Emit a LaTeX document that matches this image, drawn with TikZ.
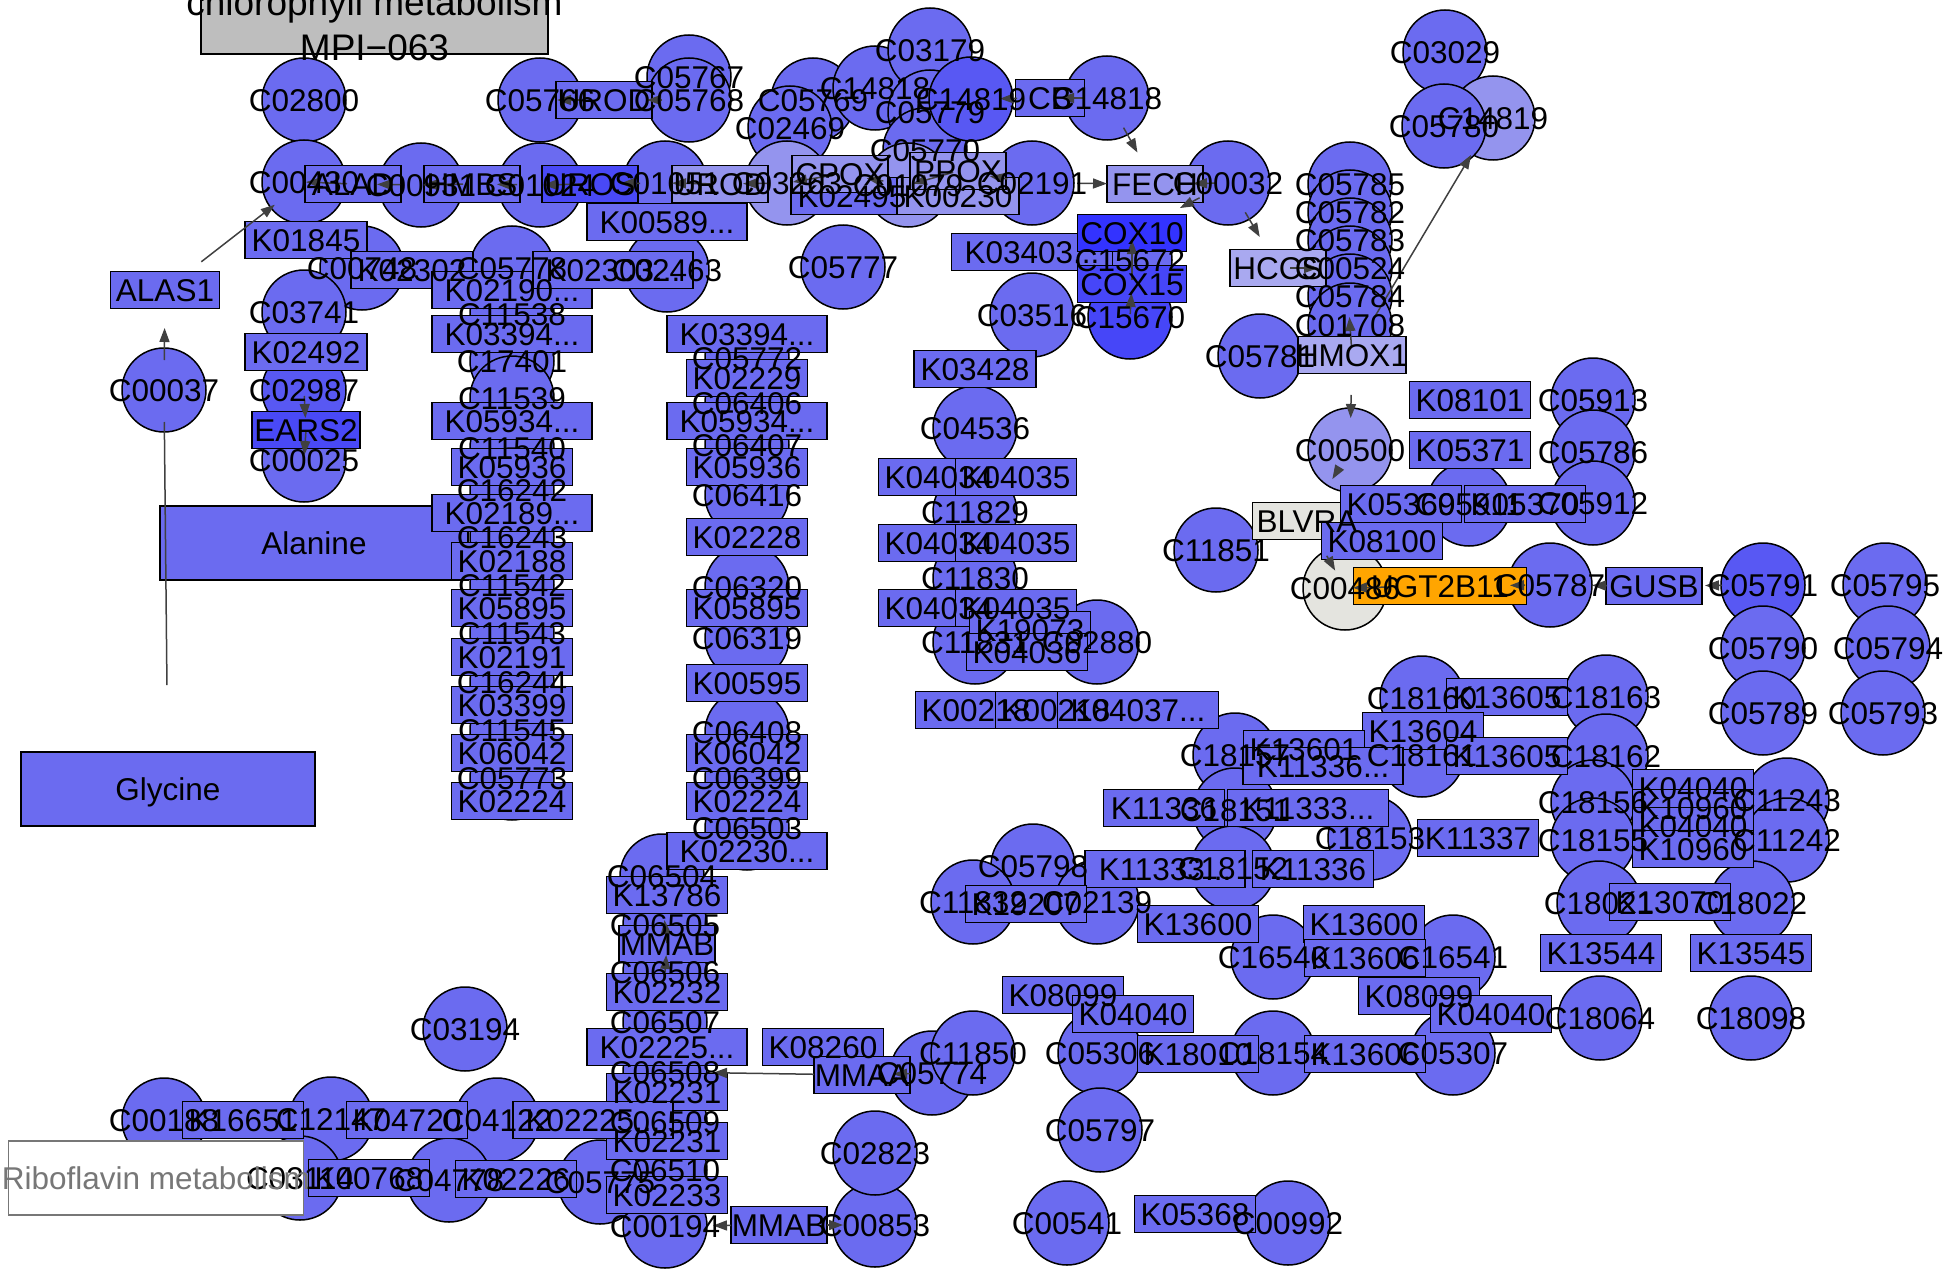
\documentclass[tikz,border=0pt]{standalone}
\usepackage{fontspec}
\setmainfont{Liberation Sans}
\usetikzlibrary{arrows.meta}
\definecolor{cpdblue}{HTML}{6B6BF0}
\definecolor{midblue}{HTML}{5858F3}
\definecolor{deepblue}{HTML}{4949F6}
\definecolor{coxblue}{HTML}{3333FF}
\definecolor{coxblueb}{HTML}{4646F8}
\definecolor{paleblue}{HTML}{9494EE}
\definecolor{paleblueb}{HTML}{A9A9F0}
\definecolor{greyish}{HTML}{E4E4DF}
\definecolor{orangebox}{HTML}{FFA500}
\definecolor{groupgray}{HTML}{BEBEBE}
\definecolor{edgegray}{HTML}{404040}
\definecolor{ribogray}{HTML}{777777}
\newcommand{\nodefont}{\fontsize{31.5}{36}\selectfont}
\newcommand{\groupfont}{\fontsize{37}{44}\selectfont}
\protected\def\ellip{...}
\tikzset{
  cpd/.style     ={circle,draw,line width=1.5pt,minimum size=84pt,inner sep=0pt},
  gene/.style    ={rectangle,draw,line width=1.5pt,minimum height=37pt,inner sep=0pt},
  groupbox/.style={rectangle,draw,line width=1.5pt,inner sep=0pt},
  lbl/.style     ={font=\nodefont,inner sep=0pt,text height=22.5pt,text depth=0pt},
  flow/.style    ={-{Triangle[length=14pt,width=10pt]},line width=1.5pt,draw=edgegray},
  link/.style    ={line width=1.5pt,draw=edgegray},
}

\begin{document}
\begin{tikzpicture}[x=1pt,y=-1pt]
\useasboundingbox (0,0) rectangle (1952,1271);
\clip (0,0) rectangle (1952,1271);
% compounds: name/x/y/label/fill
\def\cpdlist{c02800/304/100/C02800/cpdblue,c00430/304/182/C00430/cpdblue,c00931/421/185/C00931/cpdblue,
c00748/362/268/C00748/cpdblue,c03741/304/312/C03741/cpdblue,c02987/304/390/C02987/midblue,
c00025/304/460/C00025/cpdblue,c00037/164/390/C00037/cpdblue,c05766/540/100/C05766/cpdblue,
c01024/540/185/C01024/cpdblue,c05778/512/268/C05778/cpdblue,c05767/689/77/C05767/cpdblue,
c05768/689/100/C05768/cpdblue,c01051/665/183/C01051/cpdblue,c02463/667/270/C02463/cpdblue,
c05769/813/100/C05769/cpdblue,c02469/790/128/C02469/cpdblue,c03263/787/183/C03263/paleblue,
c14818a/875/88/C14818/cpdblue,c03179/930/50/C03179/cpdblue,c05779/930/112/C05779/cpdblue,
c05770/925/150/C05770/cpdblue,c01079/908/185/C01079/paleblue,c14819a/971/99/C14819/midblue,
c05777/843/267/C05777/cpdblue,c14818b/1107/98/C14818/cpdblue,c02191/1032/183/C02191/cpdblue,
c00032/1228/183/C00032/cpdblue,c03516/1032/315/C03516/cpdblue,c15672/1130/260/C15672/cpdblue,
c15670/1130/317/C15670/coxblueb,c04536/975/428/C04536/cpdblue,
c11538/512/314/C11538/cpdblue,c17401/512/361/C17401/cpdblue,c11539/512/398/C11539/cpdblue,
c11540/512/448/C11540/cpdblue,c16242/512/490/C16242/cpdblue,c16243/512/537/C16243/cpdblue,
c11542/512/585/C11542/cpdblue,c11543/512/633/C11543/cpdblue,c16244/512/682/C16244/cpdblue,
c11545/512/730/C11545/cpdblue,c05773/512/778/C05773/cpdblue,
c05772/747/358/C05772/cpdblue,c06406/747/403/C06406/cpdblue,c06407/747/445/C06407/cpdblue,
c06416/747/495/C06416/cpdblue,c06320/747/587/C06320/cpdblue,c06319/747/638/C06319/cpdblue,
c06408/747/732/C06408/cpdblue,c06399/747/778/C06399/cpdblue,c06503/747/828/C06503/cpdblue,
c06504/662/876/C06504/cpdblue,c06505/665/925/C06505/cpdblue,c06506/665/972/C06506/cpdblue,
c06507/665/1022/C06507/cpdblue,c06508/665/1072/C06508/cpdblue,c06509/665/1122/C06509/cpdblue,
c06510/665/1170/C06510/cpdblue,c00194/665/1226/C00194/cpdblue,
c00188/164/1120/C00188/cpdblue,c12147/331/1119/C12147/cpdblue,c04122/497/1120/C04122/cpdblue,
c03194/465/1029/C03194/cpdblue,c03114/300/1178/C03114/cpdblue,c04778/449/1180/C04778/cpdblue,
c05775/600/1182/C05775/cpdblue,c00853/875/1225/C00853/cpdblue,c02823/875/1153/C02823/cpdblue,
c05774/932/1073/C05774/cpdblue,c11850/973/1053/C11850/cpdblue,
c11829/975/512/C11829/cpdblue,c11830/975/578/C11830/cpdblue,c11831/975/642/C11831/cpdblue,
c02880/1097/642/C02880/cpdblue,c11851/1216/550/C11851/cpdblue,c18157/1235/755/C18157/cpdblue,
c18151/1235/810/C18151/cpdblue,c18152/1233/868/C18152/cpdblue,c05798/1033/866/C05798/cpdblue,
c11832/973/902/C11832/cpdblue,c02139/1097/902/C02139/cpdblue,c18153/1370/838/C18153/cpdblue,
c16540/1273/957/C16540/cpdblue,c16541/1453/957/C16541/cpdblue,c05306/1100/1053/C05306/cpdblue,
c18154/1273/1053/C18154/cpdblue,c05307/1453/1053/C05307/cpdblue,c05797/1100/1130/C05797/cpdblue,
c00541/1067/1223/C00541/cpdblue,c00992/1288/1223/C00992/cpdblue,
c18160/1422/698/C18160/cpdblue,c18161/1422/755/C18161/cpdblue,c18163/1606/697/C18163/cpdblue,
c18162/1606/756/C18162/cpdblue,c18156/1593/802/C18156/cpdblue,c18155/1593/840/C18155/cpdblue,
c11243/1787/800/C11243/cpdblue,c11242/1787/840/C11242/cpdblue,c18021/1599/903/C18021/cpdblue,
c18022/1752/903/C18022/cpdblue,c18064/1600/1018/C18064/cpdblue,c18098/1751/1018/C18098/cpdblue,
c05785/1350/184/C05785/cpdblue,c05782/1350/212/C05782/cpdblue,c05783/1350/240/C05783/cpdblue,
c00524/1350/268/C00524/cpdblue,c05784/1350/296/C05784/cpdblue,c01708/1350/325/C01708/cpdblue,
c05781/1260/356/C05781/cpdblue,c03029/1445/52/C03029/cpdblue,c14819b/1493/118/C14819/paleblue,
c05780/1444/126/C05780/cpdblue,c00500/1350/450/C00500/paleblue,c05913/1593/400/C05913/cpdblue,
c05786/1593/452/C05786/cpdblue,c05911/1469/504/C05911/cpdblue,c05912/1593/503/C05912/cpdblue,
c00486/1345/588/C00486/greyish,c05787/1550/585/C05787/cpdblue,c05791/1763/585/C05791/midblue,
c05795/1885/585/C05795/cpdblue,c05790/1763/648/C05790/cpdblue,c05794/1888/648/C05794/cpdblue,
c05789/1763/713/C05789/cpdblue,c05793/1883/713/C05793/cpdblue}
% genes: name/x/y/width/label/fill
\def\genelist{alas1/165/290/109/ALAS1/cpdblue,k01845/306/240/122/K01845/cpdblue,
k02492/306/352/122/K02492/cpdblue,ears2/306/430/108/EARS2/deepblue,
alad/353/184/96/ALAD/cpdblue,hmbs/472/184/96/HMBS/cpdblue,uros/590/184/96/UROS/deepblue,
urod/720/184/96/UROD/paleblue,k02495/852/196/122/K02495/cpdblue,cpox/840/174/96/CPOX/paleblue,
k00230/958/196/122/K00230/paleblue,ppox/958/171/96/PPOX/paleblue,cb/1050/98/69/CB/cpdblue,
fech/1155/184/96/FECH/paleblue,k03403/1032/252/161/K03403\ellip/cpdblue,
cox10/1132/233/109/COX10/coxblue,cox15/1132/284/109/COX15/coxblueb,
hccs/1278/268/96/HCCS/paleblueb,hmox1/1352/355/108/HMOX1/paleblueb,k03428/975/369/122/K03428/cpdblue,
urodb/604/100/96/UROD/cpdblue,k00589/667/222/160/K00589\ellip/cpdblue,
k02302/412/270/122/K02302/cpdblue,k02190/512/290/160/K02190\ellip/cpdblue,
k02303/613/270/160/K02303\ellip/cpdblue,
k03394a/512/334/160/K03394\ellip/cpdblue,k05934a/512/421/160/K05934\ellip/cpdblue,
k05936a/512/467/121/K05936/cpdblue,k02189/512/513/160/K02189\ellip/cpdblue,
k02188/512/561/121/K02188/cpdblue,k05895a/512/608/121/K05895/cpdblue,
k02191/512/657/121/K02191/cpdblue,k03399/512/705/121/K03399/cpdblue,
k06042a/512/753/121/K06042/cpdblue,k02224a/512/801/121/K02224/cpdblue,
k03394b/747/334/160/K03394\ellip/cpdblue,k02229/747/378/121/K02229/cpdblue,
k05934b/747/421/160/K05934\ellip/cpdblue,k05936b/747/467/121/K05936/cpdblue,
k02228/747/537/121/K02228/cpdblue,k05895b/747/608/121/K05895/cpdblue,
k00595/747/683/121/K00595/cpdblue,k06042b/747/753/121/K06042/cpdblue,
k02224b/747/801/121/K02224/cpdblue,k02230/747/851/160/K02230\ellip/cpdblue,
k13786/667/895/121/K13786/cpdblue,mmaba/667/944/96/MMAB/cpdblue,
k02232/667/992/121/K02232/cpdblue,k02225a/667/1047/160/K02225\ellip/cpdblue,
k02231a/667/1092/121/K02231/cpdblue,k02231b/667/1141/121/K02231/cpdblue,
k02233/667/1195/121/K02233/cpdblue,k02225b/593/1120/160/K02225\ellip/cpdblue,
k16651/243/1120/121/K16651/cpdblue,k04720/407/1120/121/K04720/cpdblue,
k00768/369/1178/121/K00768/cpdblue,k02226/516/1179/121/K02226/cpdblue,
k08260/823/1047/121/K08260/cpdblue,mmaa/862/1075/96/MMAA/cpdblue,mmabb/779/1225/96/MMAB/cpdblue,
k04034a/939/477/121/K04034/cpdblue,k04035a/1016/477/121/K04035/cpdblue,
k04034b/939/543/121/K04034/cpdblue,k04035b/1016/543/121/K04035/cpdblue,
k04034c/939/608/121/K04034/cpdblue,k04035c/1016/608/121/K04035/cpdblue,
k19073/1030/630/121/K19073/cpdblue,k04036/1027/652/121/K04036/cpdblue,
k00218a/976/710/121/K00218/cpdblue,k00218b/1056/710/121/K00218/cpdblue,
k04037/1138/710/161/K04037\ellip/cpdblue,
blvra/1307/521/109/BLVRA/greyish,k05369/1401/504/121/K05369/cpdblue,k05370/1525/504/121/K05370/cpdblue,
k08100/1382/541/121/K08100/cpdblue,ugt/1440/586/173/UGT2B11/orangebox,gusb/1654/586/96/GUSB/cpdblue,
k05371/1470/450/121/K05371/cpdblue,k08101/1470/400/121/K08101/cpdblue,
k13605a/1507/697/121/K13605/cpdblue,k13604/1423/731/121/K13604/cpdblue,
k13601/1304/749/121/K13601/cpdblue,k11336a/1323/766/160/K11336\ellip/cpdblue,
k13605b/1507/756/121/K13605/cpdblue,k11336b/1164/808/121/K11336/cpdblue,
k11333a/1308/808/161/K11333\ellip/cpdblue,k11333b/1165/869/160/K11333\ellip/cpdblue,
k11336c/1313/869/121/K11336/cpdblue,k11337/1478/838/121/K11337/cpdblue,
k04040a/1693/788/121/K04040/cpdblue,k10960a/1693/808/121/K10960/cpdblue,
k04040b/1693/826/121/K04040/cpdblue,k10960b/1693/849/121/K10960/cpdblue,
k13070/1670/902/121/K13070/cpdblue,k13544/1601/953/121/K13544/cpdblue,k13545/1751/953/121/K13545/cpdblue,
k19207/1026/904/121/K19207/cpdblue,k13600a/1198/924/121/K13600/cpdblue,k13600b/1364/924/121/K13600/cpdblue,
k13606a/1365/958/121/K13606/cpdblue,k08099a/1063/995/121/K08099/cpdblue,k04040c/1133/1014/121/K04040/cpdblue,
k18010/1198/1054/121/K18010/cpdblue,k13606b/1365/1054/121/K13606/cpdblue,
k08099b/1419/996/121/K08099/cpdblue,k04040d/1491/1014/121/K04040/cpdblue,k05368/1195/1214/121/K05368/cpdblue}
\foreach \nm/\px/\py/\lab/\col in \cpdlist {\node[cpd,fill=\col] (\nm) at (\px,\py) {};}
% pathway boxes
\node[groupbox,fill=groupgray,minimum width=347pt,minimum height=70pt] (chloro) at (374.5,19) {};
\node[groupbox,fill=cpdblue,minimum width=308pt,minimum height=74pt] (alanine) at (314,543) {};
\node[groupbox,fill=cpdblue,minimum width=294pt,minimum height=74pt] (glycine) at (168,789) {};
\node[groupbox,fill=white,draw=ribogray,minimum width=295pt,minimum height=74pt] (ribo) at (156,1178) {};
\foreach \nm/\px/\py/\bw/\lab/\col in \genelist {\node[gene,fill=\col,minimum width=\bw pt] (\nm) at (\px,\py) {};}
% reactions
\draw[flow,shorten <=30pt,shorten >=38pt] (c00037.center) -- (alas1.center);
\draw[flow,shorten <=46pt,shorten >=37pt] (alas1.center) -- (c00430.center);
\draw[link,shorten <=32pt,shorten >=104pt] (c00037.center) -- (glycine.center);
\draw[flow,shorten <=6pt,shorten >=12pt] (c02987.center) -- (ears2.center);
\draw[flow,shorten <=2pt,shorten >=5pt] (ears2.center) -- (c00025.center);
\draw[flow,shorten <=6pt,shorten >=2pt] (alad.center) -- (c00430.center);
\draw[flow,shorten <=21pt,shorten >=24pt] (c00931.center) -- (alad.center);
\draw[flow,shorten <=9pt,shorten >=2pt] (hmbs.center) -- (c00931.center);
\draw[flow,shorten <=23pt,shorten >=25pt] (c01024.center) -- (hmbs.center);
\draw[flow,shorten <=7pt,shorten >=3pt] (uros.center) -- (c01024.center);
\draw[flow,shorten <=25pt,shorten >=30pt] (c01051.center) -- (uros.center);
\draw[flow,shorten <=10pt,shorten >=7pt] (urod.center) -- (c01051.center);
\draw[flow,shorten <=20pt,shorten >=23pt] (c03263.center) -- (urod.center);
\draw[flow,shorten <=7pt,shorten >=6pt] (cpox.center) -- (c03263.center);
\draw[flow,shorten <=25pt,shorten >=27pt] (c01079.center) -- (cpox.center);
\draw[flow,shorten <=5pt,shorten >=5pt] (ppox.center) -- (c01079.center);
\draw[flow,shorten <=25pt,shorten >=32pt] (c02191.center) -- (ppox.center);
\draw[flow,shorten <=45pt,shorten >=48pt] (c02191.center) -- (fech.center);
\draw[flow,shorten <=13pt,shorten >=38pt] (c00032.center) -- (fech.center);
\draw[flow,shorten <=32pt,shorten >=54pt] (c00032.center) -- (cox10.center);
\draw[flow,shorten <=34pt,shorten >=36pt] (c00032.center) -- (hccs.center);
\draw[flow,shorten <=34pt,shorten >=36pt] (c14818b.center) -- (fech.center);
\draw[flow,shorten <=22pt,shorten >=10pt] (c14818b.center) -- (cb.center);
\draw[flow,shorten <=33pt,shorten >=29pt] (cb.center) -- (c14819a.center);
\draw[flow,shorten <=27pt,shorten >=43pt] (c05768.center) -- (urodb.center);
\draw[flow,shorten <=24pt,shorten >=17pt] (urodb.center) -- (c05766.center);
\draw[flow,shorten <=3pt,shorten >=9pt] (c15670.center) -- (cox15.center);
\draw[flow,shorten <=4pt,shorten >=7pt] (cox15.center) -- (cox10.center);
\draw[flow,shorten <=12pt,shorten >=32pt] (hccs.center) -- (c00524.center);
\draw[flow,shorten <=8pt,shorten >=-8pt] (hmox1.center) -- (c01708.center);
\draw[flow,shorten <=40pt,shorten >=32pt] (hmox1.center) -- (c00500.center);
\draw[flow,shorten <=41pt,shorten >=43pt] (hmox1.center) -- (c14819b.center);
\draw[flow,shorten <=23pt,shorten >=49pt] (c00500.center) -- (blvra.center);
\draw[flow,shorten <=40pt,shorten >=20pt] (blvra.center) -- (c00486.center);
\draw[flow,shorten <=50pt,shorten >=8pt] (ugt.center) -- (c00486.center);
\draw[flow,shorten <=25pt,shorten >=70pt] (c05787.center) -- (ugt.center);
\draw[flow,shorten <=47pt,shorten >=42pt] (gusb.center) -- (c05787.center);
\draw[flow,shorten <=41pt,shorten >=51pt] (c05791.center) -- (gusb.center);
\draw[flow,shorten <=0pt,shorten >=11pt] (c06506.center) -- (mmaba.center);
\draw[flow,shorten <=1pt,shorten >=-5pt] (mmaba.center) -- (c06505.center);
\draw[flow,shorten <=48pt,shorten >=48pt] (mmaa.center) -- (c06508.center);
\draw[flow,shorten <=22pt,shorten >=31pt] (c05774.center) -- (mmaa.center);
\draw[flow,shorten <=48pt,shorten >=48pt] (mmabb.center) -- (c00194.center);
\draw[flow,shorten <=48pt,shorten >=32pt] (mmabb.center) -- (c00853.center);
% labels on top
\foreach \nm/\px/\py/\lab/\col in \cpdlist {\node[lbl] at (\nm) {\lab};}
\foreach \nm/\px/\py/\bw/\lab/\col in \genelist {\node[lbl] at (\nm) {\lab};}
\node[lbl] at (alanine) {Alanine};
\node[lbl] at (glycine) {Glycine};
\node[lbl,text=ribogray] at (ribo) {Riboflavin metabolism};
\node[font=\groupfont,inner sep=0pt,text height=26.5pt,text depth=0pt] at (374.5,2) {chlorophyll metabolism};
\node[font=\groupfont,inner sep=0pt,text height=26.5pt,text depth=0pt] at (374.5,47) {MPI−063};
\end{tikzpicture}
\end{document}
